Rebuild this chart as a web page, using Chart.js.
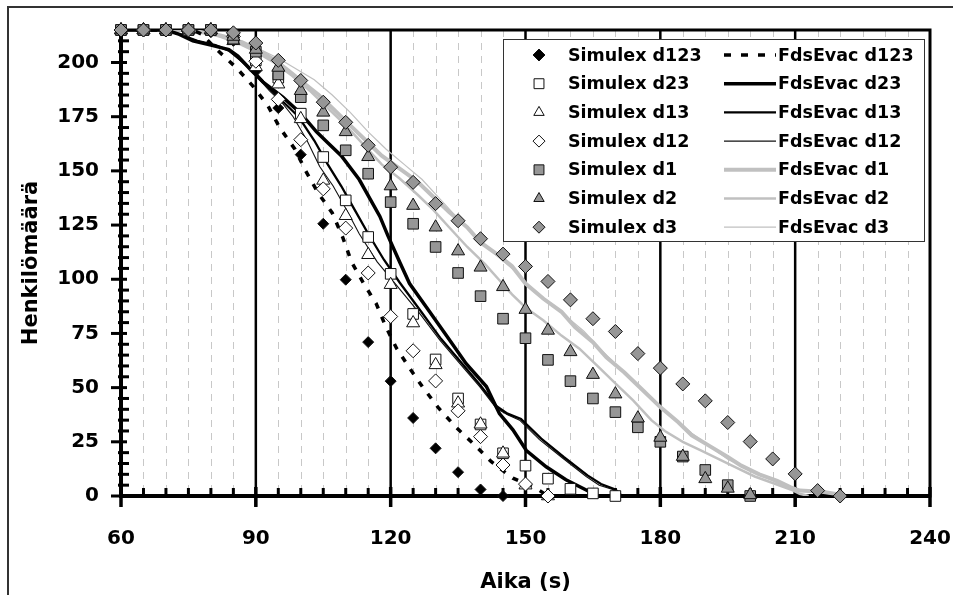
<!DOCTYPE html>
<html>
<head>
<meta charset="utf-8">
<script src="https://cdn.jsdelivr.net/npm/chart.js@4.4.1/dist/chart.umd.min.js"></script>
<style>
  html, body { margin: 0; padding: 0; background: #fff; }
  #wrap { width: 953px; height: 595px; }
</style>
</head>
<body>
<div id="wrap"><canvas id="evacChart" width="953" height="595"></canvas></div>
<script>
// Simulex: one value every 5 s starting at 60 s
const simTime = [60, 65, 70, 75, 80, 85, 90, 95, 100, 105, 110, 115, 120, 125, 130, 135, 140, 145, 150, 155, 160, 165, 170, 175, 180, 185, 190, 195, 200, 205, 210, 215, 220];
const simD123 = [215, 215, 215, 215, 214, 210, 196, 179, 157.5, 125.6, 99.8, 71, 53, 36, 22, 11, 3, 0];
const simD23 = [215, 215, 215, 215, 215, 211, 201, 193, 176.4, 156.4, 136.4, 119.5, 102.5, 84, 63, 45, 33, 19.7, 14, 8, 3.3, 1.2, 0];
const simD13 = [215, 215, 215, 215, 215, 210, 198, 190, 174, 145.6, 129.3, 111.3, 97.5, 79.8, 60.5, 42.8, 33.1, 19.7, 5, 0];
const simD12 = [215, 215, 215, 215, 215, 212, 200.6, 183, 164.4, 141.7, 123.6, 102.9, 82.8, 67, 53.1, 39.3, 27.4, 14.3, 5.5, 0];
const simD1 = [215, 215, 215, 215, 215, 211, 205, 194.5, 184, 171, 159.5, 148.7, 135.6, 125.6, 114.9, 102.9, 92.2, 81.8, 72.8, 62.8, 53, 45, 38.7, 31.7, 25, 18.2, 12, 5, 0];
const simD2 = [215, 215, 215, 215, 215, 212, 206, 197.7, 187, 177, 168, 156.5, 143, 134, 124, 113, 105.5, 96.5, 86, 76.4, 66.5, 56, 47, 35.9, 27, 18.2, 7.9, 3.5, 0.5];
const simD3 = [215, 215, 215, 215, 215, 213.7, 209, 201, 191.7, 181.7, 172.4, 161.8, 151.7, 144.7, 134.9, 127, 118.7, 111.6, 105.9, 99, 90.5, 81.8, 75.9, 65.7, 59, 51.7, 43.9, 33.9, 25.1, 17.1, 10.2, 2.5, 0];

// FdsEvac curves: [time, persons]
const fdsD123 = [[60,215],[76,215],[78,213],[81.3,206],[85.7,197.5],[89.4,189],[92.7,180],[95.3,170],[98.7,160],[101.1,150],[103.8,140],[107,130.6],[109.3,119.5],[111.3,108],[114,98],[116.8,88.7],[118.9,78.2],[121.3,68.2],[124.2,59],[127.3,49.7],[130.7,40.5],[134.4,32],[138.3,24.3],[142.4,15.8],[147.2,8.2],[152.4,3.5],[155,0]];
const fdsD23 = [[60,215],[70,215],[73,213],[76,210],[80,208],[84,206],[86,203],[88.7,197],[91.6,191],[96,184],[100,176.5],[103.5,168],[106,163],[109,157],[113,146],[117.6,129],[119.4,120],[122,108],[124.2,98],[128,87],[132.4,74],[136.8,61],[141.3,50.5],[144.2,38],[147.2,30.5],[150.2,21],[154.6,13.5],[159,7.5],[163.5,2.8],[166,0]];
const fdsD13 = [[60,215],[70,215],[73,213],[77,210],[81,208],[84,205.5],[87,200.5],[90,195],[93,188],[96,182],[99.5,175],[103,164],[106,153],[109,143],[112,132],[115,121],[118.5,109],[122,98.5],[126.8,85],[131.2,72.5],[135.5,62],[140,51],[143.5,41.5],[146,38],[149,35.5],[153.5,26.5],[158.5,18],[163.8,9.5],[166.8,5.5],[170,3],[171.5,0]];
const fdsD12 = [[60,215],[70,215],[73,213],[77,210],[81,208],[84,205.5],[87,200],[90,194],[93,187],[96,181],[98.3,175],[101.3,164.4],[104.2,152],[107.2,143],[110.2,132],[113,121],[117,108],[121,98],[126.4,84.4],[130.9,72],[135.3,61.3],[139.8,50.5],[143.5,40.5],[146,37.5],[148.7,35],[153.1,26],[158.3,17.4],[163.5,9],[166.4,5],[169.4,3],[171,0]];
const fdsD1 = [[60,215],[74,215],[78,214],[81,213],[84,211.5],[87,209],[90,206],[92,204],[95,200],[98,195],[101,190],[104,185],[107,179],[111,171],[115,163],[118,157],[122,151],[126,145],[129,139],[133,131],[137,124],[140,117],[144,111],[147,106],[150,98],[154,91],[158,85],[161,78],[165,71],[168,64],[172,57],[176,49],[180,41],[184,34],[187,28],[191,23],[195,18],[198,14],[202,10],[206,7],[209,4],[211,2.5],[216,2],[219,1],[220,0]];
const fdsD2 = [[60,215],[74,215],[78,214],[82,212],[86,209],[90,205],[94,200],[98,194],[102,187],[106,179],[110,171],[114,162],[118,153],[122,146.5],[126,139],[129.5,132],[133,124],[137,115],[141,107],[144,100],[147,93],[150,87],[154,81],[158,74],[162,68],[166,60],[170,52],[174,44],[178,35],[181,30],[185,25],[189,21],[193,17],[197,13],[201,9],[205,6],[209,3],[211,1],[213,0]];
const fdsD3 = [[60,215],[74,215],[79,214],[83,212],[87,210],[91,206],[95,202],[99,197],[103,192],[107,185],[111,177],[115,168],[119,160],[123,153],[127,146],[131,137],[135,128],[139,119],[143,112],[147,105],[151,96],[155,90],[159,83],[163,76],[167,67],[171,59],[175,51],[179,43],[183,36],[187,29],[191,23],[195,17],[199,13],[203,9],[207,5],[210,3],[214,2],[218,1],[220,0]];

const xTickLabels = [60, 90, 120, 150, 180, 210, 240];
const yTickLabels = [0, 25, 50, 75, 100, 125, 150, 175, 200];

const FONT = "'DejaVu Sans', sans-serif";
const GRAY = '#969696';
const LGRAY = '#c0c0c0';

function simPoints(vals) {
    return vals.map((v, i) => ({ x: simTime[i], y: v }));
}
function fdsPoints(pairs) {
    return pairs.map(p => ({ x: p[0], y: p[1] }));
}
// lower order is drawn on top: later Simulex series above earlier ones, all above the lines
function simSet(label, vals, style, radius, fill, order) {
    return {
        label: label, data: simPoints(vals), showLine: false, order: order, clip: 12,
        pointStyle: style, pointRadius: radius, pointHoverRadius: radius,
        pointBackgroundColor: fill, pointBorderColor: '#111', pointBorderWidth: 1
    };
}
function fdsSet(label, pairs, color, width, dash) {
    return {
        label: label, data: fdsPoints(pairs), showLine: true, order: 10,
        borderColor: color, borderWidth: width, borderDash: dash || [],
        pointRadius: 0, pointHoverRadius: 0, tension: 0, fill: false
    };
}

const simSets = [
    simSet('Simulex d123', simD123, 'rectRot', 5.5, '#000', 7),
    simSet('Simulex d23', simD23, 'rect', 7.5, '#fff', 6),
    simSet('Simulex d13', simD13, 'triangle', 7.5, '#fff', 5),
    simSet('Simulex d12', simD12, 'rectRot', 7, '#fff', 4),
    simSet('Simulex d1', simD1, 'rect', 7.5, GRAY, 3),
    simSet('Simulex d2', simD2, 'triangle', 7.5, GRAY, 2),
    simSet('Simulex d3', simD3, 'rectRot', 7, GRAY, 1)
];
const fdsSets = [
    fdsSet('FdsEvac d123', fdsD123, '#000', 3.5, [6, 9]),
    fdsSet('FdsEvac d23', fdsD23, '#000', 3.5),
    fdsSet('FdsEvac d13', fdsD13, '#000', 2.3),
    fdsSet('FdsEvac d12', fdsD12, '#111', 1.1),
    fdsSet('FdsEvac d1', fdsD1, LGRAY, 4),
    fdsSet('FdsEvac d2', fdsD2, LGRAY, 2.5),
    fdsSet('FdsEvac d3', fdsD3, LGRAY, 1.2)
];

function markerPath(ctx, style, x, y, r) {
    ctx.beginPath();
    if (style === 'rect') {
        const s = Math.SQRT1_2 * r;
        ctx.rect(x - s, y - s, 2 * s, 2 * s);
    } else if (style === 'triangle') {
        const h = r * Math.sin(Math.PI / 3);
        ctx.moveTo(x, y - r);
        ctx.lineTo(x + h, y + r / 2);
        ctx.lineTo(x - h, y + r / 2);
        ctx.closePath();
    } else {
        ctx.moveTo(x - r, y);
        ctx.lineTo(x, y - r);
        ctx.lineTo(x + r, y);
        ctx.lineTo(x, y + r);
        ctx.closePath();
    }
}

const framePlugin = {
    id: 'frame',
    beforeDraw(chart) {
        const ctx = chart.ctx;
        ctx.save();
        ctx.fillStyle = '#fff';
        ctx.fillRect(0, 0, chart.width, chart.height);
        ctx.strokeStyle = '#333';
        ctx.lineWidth = 2;
        ctx.beginPath();
        ctx.moveTo(8, chart.height);
        ctx.lineTo(8, 7);
        ctx.lineTo(chart.width, 7);
        ctx.stroke();
        ctx.restore();
    },
    beforeDatasetsDraw(chart) {
        const { ctx, chartArea: a, scales: { x, y } } = chart;
        ctx.save();
        // dashed minor verticals every 5 s
        ctx.strokeStyle = '#c8c8c8';
        ctx.lineWidth = 1;
        ctx.setLineDash([7, 6]);
        for (let t = 65; t < 240; t += 5) {
            if (t % 30 === 0) continue;
            const px = Math.round(x.getPixelForValue(t)) + 0.5;
            ctx.beginPath(); ctx.moveTo(px, a.top); ctx.lineTo(px, a.bottom); ctx.stroke();
        }
        ctx.setLineDash([]);
        // solid verticals every 30 s
        ctx.strokeStyle = '#000';
        ctx.lineWidth = 2.5;
        for (let t = 90; t < 240; t += 30) {
            const px = x.getPixelForValue(t);
            ctx.beginPath(); ctx.moveTo(px, a.top); ctx.lineTo(px, a.bottom + 10); ctx.stroke();
        }
        // x ticks
        ctx.lineWidth = 3;
        for (let t = 65; t < 240; t += 5) {
            if (t % 30 === 0) continue;
            const px = x.getPixelForValue(t);
            ctx.beginPath(); ctx.moveTo(px, a.bottom - 8); ctx.lineTo(px, a.bottom); ctx.stroke();
        }
        ctx.lineWidth = 3.5;
        for (let t = 60; t <= 240; t += 30) {
            const px = x.getPixelForValue(t);
            ctx.beginPath(); ctx.moveTo(px, t === 60 ? a.bottom : a.bottom - 9); ctx.lineTo(px, a.bottom + 11); ctx.stroke();
        }
        // y ticks
        ctx.lineWidth = 3;
        for (let v = 5; v < 215; v += 5) {
            const py = y.getPixelForValue(v);
            if (v % 25 === 0) {
                ctx.beginPath(); ctx.moveTo(a.left - 10, py); ctx.lineTo(a.left + 6, py); ctx.stroke();
            } else {
                ctx.beginPath(); ctx.moveTo(a.left - 3, py); ctx.lineTo(a.left + 8, py); ctx.stroke();
            }
        }
        ctx.beginPath(); ctx.moveTo(a.left - 10, a.bottom); ctx.lineTo(a.left, a.bottom); ctx.stroke();
        // plot frame
        ctx.lineWidth = 3;
        ctx.strokeRect(a.left, a.top, a.right - a.left, a.bottom - a.top);
        ctx.lineWidth = 4;
        ctx.beginPath();
        ctx.moveTo(a.left, a.top); ctx.lineTo(a.left, a.bottom); ctx.lineTo(a.right, a.bottom);
        ctx.stroke();
        ctx.restore();
    },
    afterDraw(chart) {
        const ctx = chart.ctx;
        const box = { left: 503, top: 39, right: 924, bottom: 241 };
        ctx.save();
        ctx.fillStyle = '#fff';
        ctx.fillRect(box.left, box.top, box.right - box.left, box.bottom - box.top);
        ctx.strokeStyle = '#333';
        ctx.lineWidth = 1;
        ctx.strokeRect(box.left + 0.5, box.top + 0.5, box.right - box.left, box.bottom - box.top);
        ctx.font = "bold 17.5px " + FONT;
        ctx.textBaseline = 'middle';
        ctx.textAlign = 'left';
        for (let i = 0; i < simSets.length; i++) {
            const ry = box.top + 16 + i * 28.7;
            const s = simSets[i];
            markerPath(ctx, s.pointStyle, 539, ry, s.pointStyle === 'rect' ? 7 : 6);
            ctx.fillStyle = s.pointBackgroundColor;
            ctx.fill();
            ctx.strokeStyle = '#111';
            ctx.lineWidth = 1;
            ctx.stroke();
            ctx.fillStyle = '#000';
            ctx.fillText(s.label, 568, ry + 1);
            const f = fdsSets[i];
            ctx.strokeStyle = f.borderColor;
            ctx.lineWidth = f.borderWidth;
            ctx.setLineDash(f.borderDash.length ? [7, 10] : []);
            ctx.beginPath(); ctx.moveTo(724, ry); ctx.lineTo(776, ry); ctx.stroke();
            ctx.setLineDash([]);
            ctx.fillStyle = '#000';
            ctx.fillText(f.label, 778, ry + 1);
        }
        ctx.restore();
    }
};

new Chart(document.getElementById('evacChart'), {
    type: 'scatter',
    data: { datasets: simSets.concat(fdsSets) },
    options: {
        responsive: false,
        animation: false,
        events: [],
        layout: { padding: { top: 30, right: 23, left: 0, bottom: 0 } },
        plugins: { legend: { display: false }, tooltip: { enabled: false } },
        scales: {
            x: {
                type: 'linear', min: 60, max: 240,
                afterBuildTicks: s => { s.ticks = xTickLabels.map(v => ({ value: v })); },
                afterFit: s => { s.height = 99; s.paddingLeft = 0; s.paddingRight = 0; },
                grid: { display: false, drawTicks: false },
                border: { display: false },
                ticks: { padding: 31, color: '#000', font: { family: FONT, size: 20, weight: 'bold' } },
                title: { display: true, text: 'Aika (s)', color: '#000', padding: { top: 0, bottom: 0 },
                         font: { family: FONT, size: 21, weight: 'bold' } }
            },
            y: {
                type: 'linear', min: 0, max: 215,
                afterBuildTicks: s => { s.ticks = yTickLabels.map(v => ({ value: v })); },
                afterFit: s => { s.width = 121; s.paddingTop = 0; s.paddingBottom = 0; },
                grid: { display: false, drawTicks: false },
                border: { display: false },
                ticks: { padding: 22, color: '#000', font: { family: FONT, size: 20, weight: 'bold' } },
                title: { display: true, text: 'Henkilömäärä', color: '#000', padding: { top: 19, bottom: 0 },
                         font: { family: FONT, size: 21, weight: 'bold' } }
            }
        }
    },
    plugins: [framePlugin]
});
</script>
</body>
</html>
